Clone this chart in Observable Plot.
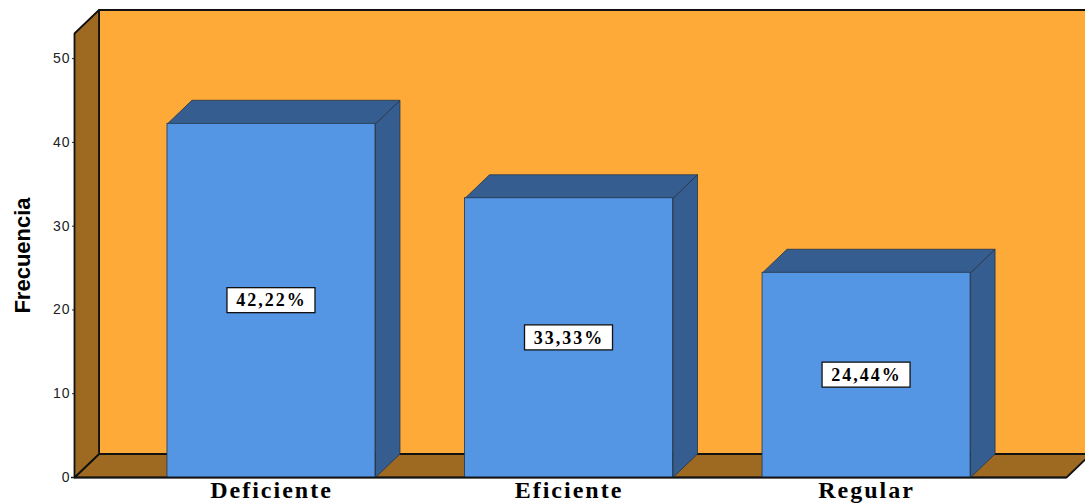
<!DOCTYPE html>
<html><head><meta charset="utf-8">
<script src="https://cdn.jsdelivr.net/npm/d3@7"></script>
<script src="https://cdn.jsdelivr.net/npm/@observablehq/plot@0.6"></script>
<style>body{margin:0;background:#fff;overflow:hidden;}</style>
</head><body><div id="chart"></div>
<script>
const categories = ["Deficiente", "Eficiente", "Regular"];
const values = [42.22, 33.33, 24.44];
const valueLabels = ["42,22%", "33,33%", "24,44%"];
const yTicks = [0, 10, 20, 30, 40, 50];
const yTitle = "Frecuencia";

const W = 1085, H = 503, mL = 74, mR = 19, mT = 33, mB = 26;
const xDom = [-0.662, 2.672], yDom = [0, 53];
const pxX = (W - mL - mR) / (xDom[1] - xDom[0]);
const pxY = (H - mT - mB) / (yDom[1] - yDom[0]);
const DX = 24.5 / pxX, DY = 23.5 / pxY;
const half = 104 / pxX;
const boxW = 44 / pxX, boxH = 12.5 / pxY;

const ORANGE = "#FEAA38", BROWN = "#9E6A22", FRONT = "#5596E4", SIDE = "#355D90", EDGE = "#22354d";

const bars = categories.map((c, i) => ({i, c, v: values[i], label: valueLabels[i]}));

function poly(id, pts) { return pts.concat([pts[0]]).map(([x, y]) => ({id, x, y})); }
const x0 = xDom[0], x1 = xDom[1], yTop = yDom[1];
const backWall = poly("back", [[x0 + DX, DY], [x1 + DX + 0.2, DY], [x1 + DX + 0.2, yTop + DY], [x0 + DX, yTop + DY]]);
const floor = poly("floor", [[x0, 0], [x1, 0], [x1 + DX, DY], [x0 + DX, DY]]);
const leftWall = poly("left", [[x0, 0], [x0, yTop], [x0 + DX, yTop + DY], [x0 + DX, DY]]);
const sides = bars.flatMap(b => poly("s" + b.i, [[b.i + half, 0], [b.i + half, b.v], [b.i + half + DX, b.v + DY], [b.i + half + DX, DY]]));
const tops = bars.flatMap(b => poly("t" + b.i, [[b.i - half, b.v], [b.i + half, b.v], [b.i + half + DX, b.v + DY], [b.i - half + DX, b.v + DY]]));

const chart = Plot.plot({
  width: W, height: H,
  marginLeft: mL, marginRight: mR, marginTop: mT, marginBottom: mB,
  x: {domain: xDom, axis: null},
  y: {domain: yDom, axis: null},
  style: {background: "white", overflow: "visible"},
  marks: [
    Plot.line(backWall, {x: "x", y: "y", z: "id", fill: ORANGE, stroke: "none"}),
    Plot.ruleY([yTop + DY], {x1: x0 + DX, x2: x1 + DX + 0.2, stroke: "#111", strokeWidth: 2}),
    Plot.ruleX([x0 + DX], {y1: DY, y2: yTop + DY, stroke: "#111", strokeWidth: 2}),
    Plot.line(floor, {x: "x", y: "y", z: "id", fill: BROWN, stroke: "#111", strokeWidth: 1.8, strokeLinejoin: "miter"}),
    Plot.line(leftWall, {x: "x", y: "y", z: "id", fill: BROWN, stroke: "#111", strokeWidth: 1.8, strokeLinejoin: "miter"}),
    Plot.line(sides, {x: "x", y: "y", z: "id", fill: SIDE, stroke: EDGE, strokeWidth: 0.8}),
    Plot.line(tops, {x: "x", y: "y", z: "id", fill: SIDE, stroke: EDGE, strokeWidth: 0.8}),
    Plot.rect(bars, {x1: d => d.i - half, x2: d => d.i + half, y1: 0, y2: "v", fill: FRONT, stroke: EDGE, strokeWidth: 0.8}),
    Plot.ruleY([0], {x1: x0 - 3 / pxX, x2: x1, stroke: "#111", strokeWidth: 1.5}),
    Plot.rect(bars, {x1: d => d.i - boxW, x2: d => d.i + boxW, y1: d => d.v / 2 - boxH, y2: d => d.v / 2 + boxH, fill: "white", stroke: "#111", strokeWidth: 1.3}),
    Plot.text(bars, {x: "i", y: d => d.v / 2, text: "label", fontFamily: "Liberation Serif", fontWeight: "bold", fontSize: 18, fill: "black"}),
    Plot.axisY({ticks: yTicks, tickSize: 2, tickPadding: 2, fontSize: 14, fontFamily: "Liberation Sans", color: "#222", label: null}),
    Plot.axisX({ticks: [0, 1, 2], tickFormat: i => categories[i], tickSize: 0, tickPadding: 3, fontSize: 24, fontFamily: "Liberation Serif", fontWeight: "bold", color: "black", label: null}),
    Plot.text([yTitle], {text: d => d, x: x0 - 52 / pxX, y: yTop / 2, rotate: -90, fontSize: 22, fontFamily: "Liberation Sans Narrow, Liberation Sans", fontWeight: "bold", fill: "black"})
  ]
});
document.getElementById("chart").appendChild(chart);
d3.select(chart).selectAll("text").each(function () {
  const t = this.textContent;
  if (categories.includes(t)) this.style.letterSpacing = "2px";
  else if (valueLabels.includes(t)) this.style.letterSpacing = "2px";
  else if (/^\d+$/.test(t)) this.style.letterSpacing = "1px";
});
</script>
</body></html>
